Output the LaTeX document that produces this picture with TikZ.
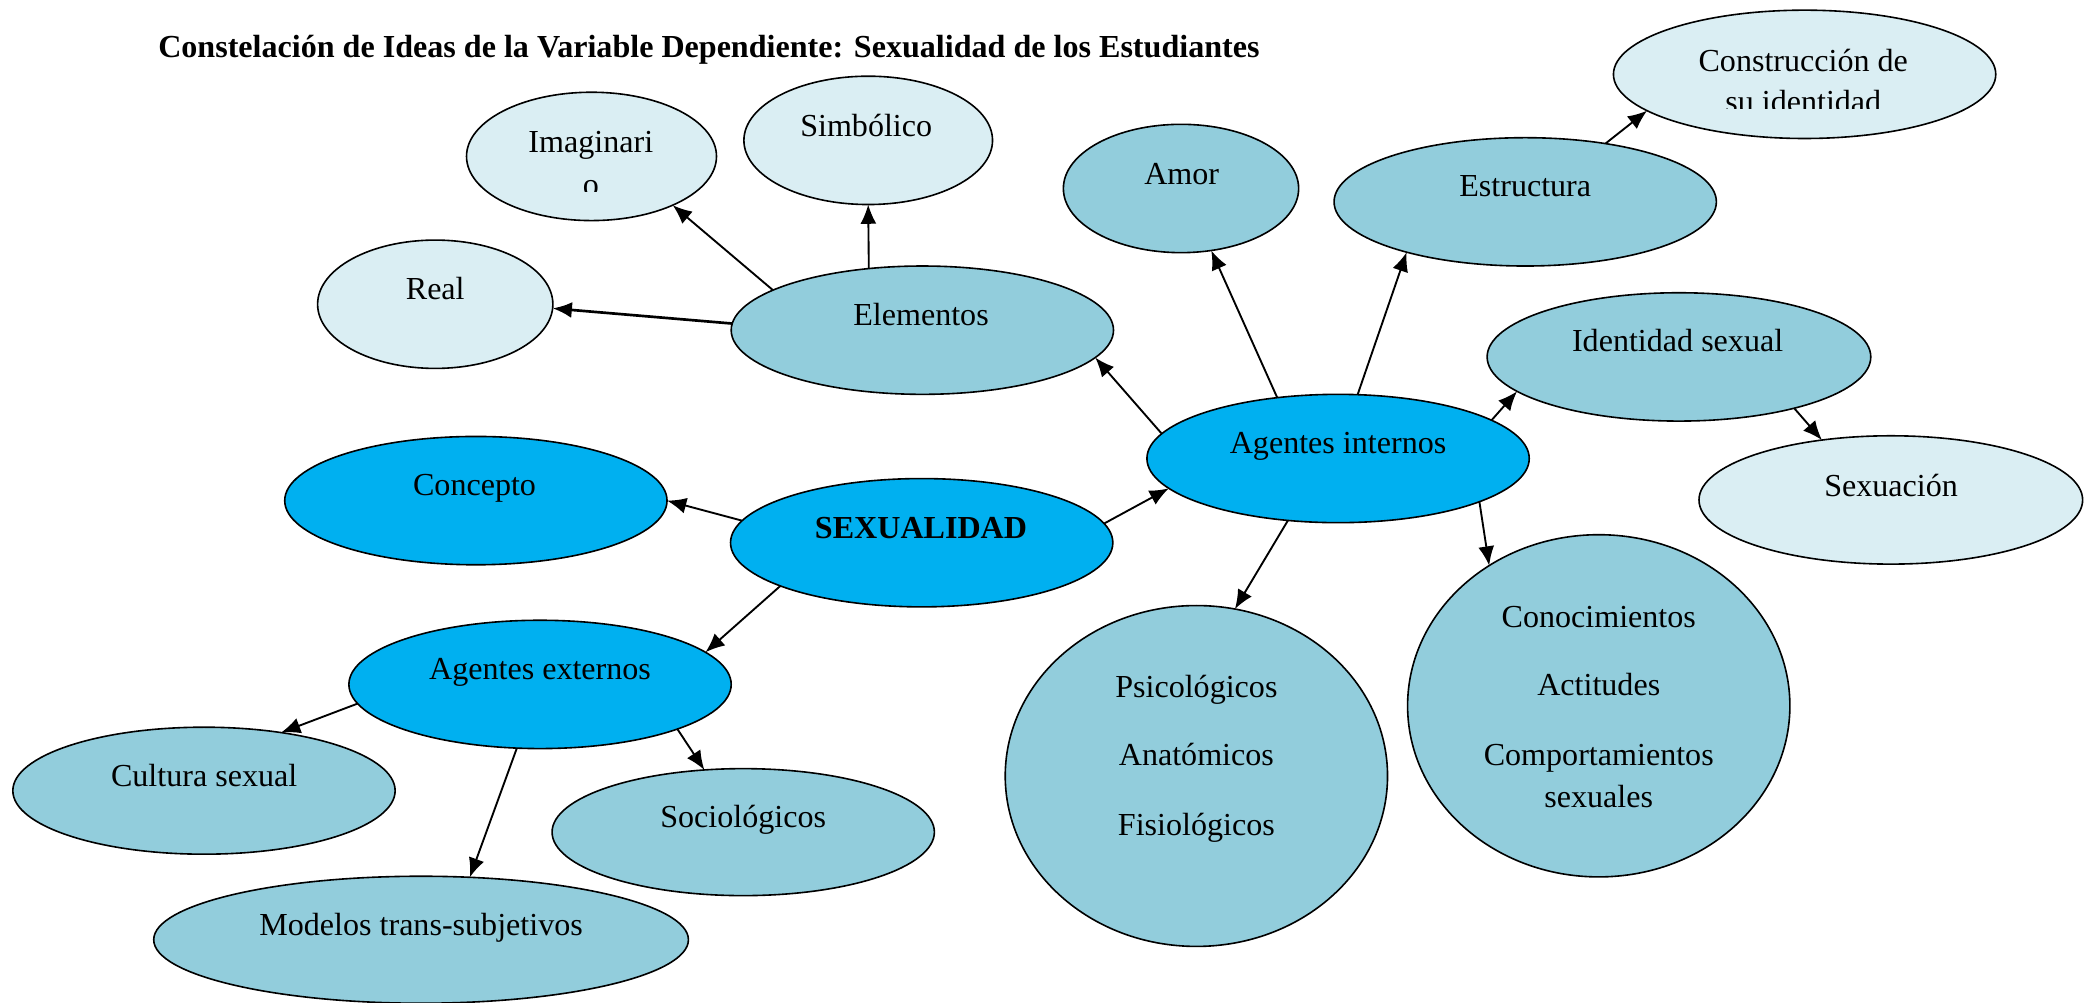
\documentclass[tikz,border=0pt]{standalone}
\usepackage{fontspec}
\setmainfont{Liberation Serif}
\usetikzlibrary{shapes.geometric,arrows.meta}
\definecolor{lightc}{HTML}{DAEEF3}
\definecolor{medc}{HTML}{92CDDC}
\definecolor{darkc}{HTML}{00B0F0}
\tikzset{
 bub/.style={ellipse,draw=black,line width=0.6pt,inner sep=0pt,outer sep=0pt},
 lightb/.style={bub,fill=lightc},
 medb/.style={bub,fill=medc},
 darkb/.style={bub,fill=darkc},
 txt/.style={anchor=base,inner sep=0pt,font=\fontsize{12pt}{14pt}\selectfont},
 btxt/.style={txt,font=\bfseries\fontsize{12pt}{14pt}\selectfont},
 conn/.style={line width=0.7pt,-{Latex[length=7.2pt,width=6pt]}},
}
\begin{document}
\begin{tikzpicture}[x=0.5pt,y=-0.5pt]
\useasboundingbox[fill=white] (0,0) rectangle (1568,750);

% title
\node[btxt,anchor=base west] (title) at (118,43) {Constelación de Ideas de la Variable Dependiente: Sexualidad de los Estudiantes};

% bubbles
\node[lightb,minimum width=143pt,minimum height=48pt] (constr) at (1350,55.6) {};
\node[lightb,minimum width=93.5pt,minimum height=48pt] (imag) at (442.5,117) {};
\node[lightb,minimum width=93pt,minimum height=48pt] (simb) at (649.5,105) {};
\node[medb,minimum width=88pt,minimum height=48pt] (amor) at (883.5,141) {};
\node[medb,minimum width=143pt,minimum height=48pt] (estr) at (1141,151) {};
\node[lightb,minimum width=88pt,minimum height=48pt] (real) at (325.6,227.6) {};
\node[medb,minimum width=143pt,minimum height=48pt] (elem) at (690,247) {};
\node[medb,minimum width=143.5pt,minimum height=48pt] (ident) at (1256,267) {};
\node[darkb,minimum width=143pt,minimum height=48pt] (ai) at (1001,343) {};
\node[lightb,minimum width=143.5pt,minimum height=48pt] (sexu) at (1414.5,374) {};
\node[darkb,minimum width=143pt,minimum height=48pt] (conc) at (356,374.5) {};
\node[darkb,minimum width=143pt,minimum height=48pt] (sex) at (689.5,406) {};
\node[darkb,minimum width=143pt,minimum height=48pt] (ae) at (404,512) {};
\node[medb,minimum width=143pt,minimum height=47.5pt] (cult) at (152.6,591.5) {};
\node[medb,minimum width=143pt,minimum height=47.5pt] (soc) at (556,622.5) {};
\node[medb,minimum width=200pt,minimum height=47.5pt] (mod) at (315,703) {};
\node[medb,minimum width=143pt,minimum height=127.5pt] (psi) at (895,580.5) {};
\node[medb,minimum width=143pt,minimum height=128pt] (cono) at (1196,528) {};

% texts
\begin{scope}
\clip (1200,0) rectangle (1500,80.8);
\node[txt] (constrA) at (1349,53.4) {Construcción de};
\node[txt] (constrB) at (1349,84.4) {su identidad};
\end{scope}
\begin{scope}
\clip (380,80) rectangle (510,143.4);
\node[txt] (imagA) at (442,114) {Imaginari};
\node[txt] (imagB) at (442,146) {o};
\end{scope}
\node[txt] (simbT) at (648,102) {Simbólico};
\node[txt] (amorT) at (884,137.7) {Amor};
\node[txt] (estrT) at (1141,147) {Estructura};
\node[txt] (realT) at (325.6,223.8) {Real};
\node[txt] (elemT) at (689,243.7) {Elementos};
\node[txt] (identT) at (1255,263) {Identidad sexual};
\node[txt] (aiT) at (1001,339) {Agentes internos};
\node[txt] (sexuT) at (1414.7,371.4) {Sexuación};
\node[txt] (concT) at (355,370.5) {Concepto};
\node[btxt] (sexT) at (689,402.8) {SEXUALIDAD};
\node[txt] (aeT) at (404,508.5) {Agentes externos};
\node[txt] (cultT) at (152.7,588) {Cultura sexual};
\node[txt] (socT) at (556,619) {Sociológicos};
\node[txt] (modT) at (315,700) {Modelos trans-subjetivos};
\node[txt] (psiA) at (895,522) {Psicológicos};
\node[txt] (psiB) at (895,573) {Anatómicos};
\node[txt] (psiC) at (895,625) {Fisiológicos};
\node[txt] (conoA) at (1196,469.5) {Conocimientos};
\node[txt] (conoB) at (1196,520.6) {Actitudes};
\node[txt] (conoC) at (1196,573) {Comportamientos};
\node[txt] (conoD) at (1196,604) {sexuales};

% connectors
\draw[conn,line width=1pt] (elem.178) -- (real.-2.2);
\draw[conn] (elem.165.8) -- (imag.-31.6);
\draw[conn] (elem.131.5) -- (simb.south);
\draw[conn] (ai.172.2) -- (elem.-9.05);
\draw[conn] (ai.135.6) -- (amor.-64.4);
\draw[conn] (ai.73.7) -- (estr.203.7);
\draw[conn] (estr.36) -- (constr.193.3);
\draw[conn] (ai.14.3) -- (ident.192.8);
\draw[conn] (ident.-24.6) -- (sexu.139.1);
\draw[conn] (sex.173.6) -- (conc.0);
\draw[conn] (sex.6.7) -- (ai.190.1);
\draw[conn] (sex.197.7) -- (ae.11);
\draw[conn] (ae.186.7) -- (cult.37.3);
\draw[conn] (ae.-18.4) -- (soc.122.6);
\draw[conn] (ae.-110) -- (mod.52.7);
\draw[conn] (ai.-129.8) -- (psi.77.1);
\draw[conn] (ai.-17.7) -- (cono.128.4);
\end{tikzpicture}
\end{document}
